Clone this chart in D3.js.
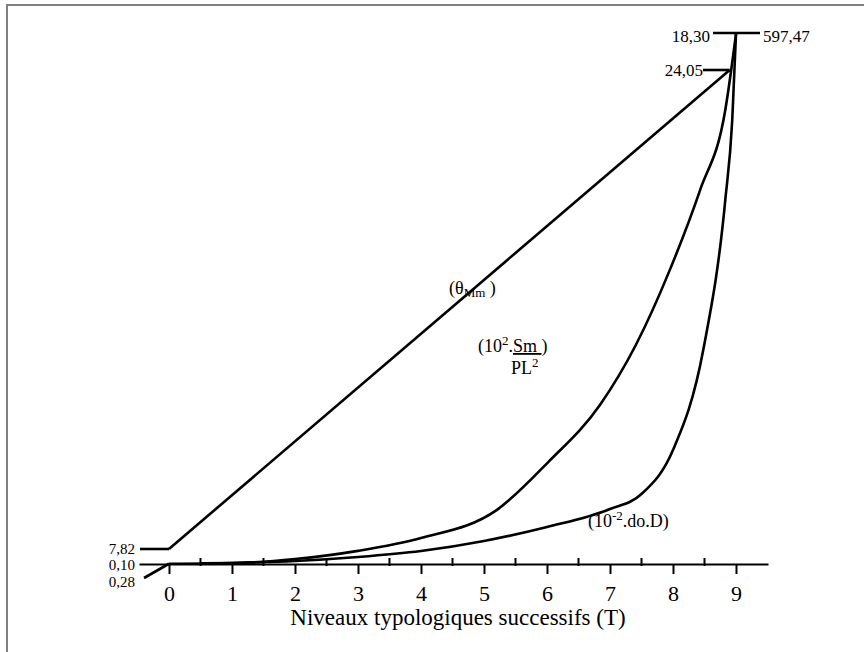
<!DOCTYPE html>
<html><head><meta charset="utf-8">
<script src="https://cdn.jsdelivr.net/npm/d3@7"></script>
<style>
body{margin:0;background:#fff;}
svg{display:block;font-family:"Liberation Serif","Times New Roman",serif;}
svg text{font-family:"Liberation Serif","Times New Roman",serif;}
</style></head><body>
<svg id="c" width="864" height="652"></svg>
<script>
// ---- data ----
const xTicks = [0,1,2,3,4,5,6,7,8,9];
const xMinor = [0.5,1.5,2.5,3.5,4.5,5.5,6.5,7.5,8.5];
const xTitle = "Niveaux typologiques successifs (T)";

// θMm series
const thetaT = [0, 8.9];
const thetaV = [7.82, 24.05];
// 10².Sm/PL² series
const smT = [0.5, 1, 2, 3, 4, 5.2, 6.02, 6.84, 7.41, 7.95, 8.43, 8.83, 9];
const smV = [0.12, 0.13, 0.27, 0.55, 0.99, 1.95, 3.60, 5.56, 7.62, 10.20, 12.94, 15.69, 18.30];
// 10⁻².do.D series
const dodT = [0, 1, 2, 3, 4, 5, 6, 7, 7.5, 8, 8.48, 8.83, 8.94, 9];
const dodV = [0.28, 1.13, 3.38, 7.89, 14.65, 25.93, 41.71, 62.0, 78.9, 128.5, 241.2, 410.3, 500.0, 597.47];

const thetaLabels = ["7,82", "24,05"];
const smLabels = ["0,10", "18,30"];
const dodLabels = ["0,28", "597,47"];

// ---- layout ----
const svg = d3.select("#c");
const x = d3.scaleLinear().domain([-0.476, 9.508]).range([139, 768]);
const yAxisPix = 564, yTopPix = 34;
const yTheta = d3.scaleLinear().domain([thetaV[0], thetaV[1]]).range([549, 70]);
const ySm = d3.scaleLinear().domain([0.10, 18.30]).range([yAxisPix, yTopPix]);
const yDod = d3.scaleLinear().domain([0, 597.47]).range([yAxisPix, yTopPix]);

// frame (top & left)
svg.append("path").attr("d","M7,652 L7,5 L864,5").attr("fill","none").attr("stroke","#808080").attr("stroke-width",2);

// axis
const ax = svg.append("g").attr("transform",`translate(0,${yAxisPix})`)
  .call(d3.axisBottom(x).tickValues(xTicks).tickSizeInner(10).tickSizeOuter(0).tickPadding(11).tickFormat(d3.format("d")));
ax.attr("font-family",null);
ax.select(".domain").attr("stroke","#000").attr("stroke-width",2);
ax.selectAll(".tick line").attr("stroke","#000").attr("stroke-width",2);
ax.selectAll(".tick text").attr("font-size",22).attr("fill","#000");
svg.append("g").selectAll("line").data(xMinor).join("line")
  .attr("x1",d=>x(d)).attr("x2",d=>x(d)).attr("y1",yAxisPix-6).attr("y2",yAxisPix+2)
  .attr("stroke","#000").attr("stroke-width",2);
svg.append("text").attr("x",458).attr("y",625).attr("text-anchor","middle").attr("font-size",23).text(xTitle);

const curve = d3.line().curve(d3.curveMonotoneX);
const stroke = (p)=>p.attr("fill","none").attr("stroke","#000").attr("stroke-width",2.6);

// series lines
svg.append("path").attr("d", d3.line()(thetaT.map((t,i)=>[x(t), yTheta(thetaV[i])]))).call(stroke);
svg.append("path").attr("d", curve(smT.map((t,i)=>[x(t), ySm(smV[i])]))).call(stroke);
svg.append("path").attr("d", curve(dodT.map((t,i)=>[x(t), yDod(dodV[i])]))).call(stroke);

// leaders & end labels
const lab = (tx,ty,s,anchor,fs)=>svg.append("text").attr("x",tx).attr("y",ty).attr("text-anchor",anchor||"end").attr("font-size",fs||17).text(s);
// θ start
svg.append("line").attr("x1",140).attr("x2",x(thetaT[0])).attr("y1",yTheta(thetaV[0])).attr("y2",yTheta(thetaV[0])).call(stroke);
lab(135, 554, thetaLabels[0], "end", 15);
// θ end
svg.append("line").attr("x1",703).attr("x2",x(thetaT[1])).attr("y1",yTheta(thetaV[1])).attr("y2",yTheta(thetaV[1])).call(stroke);
lab(703, yTheta(thetaV[1])+6, thetaLabels[1]);
// Sm start (on axis)
lab(135, 570, smLabels[0], "end", 15);
// dod start leader
svg.append("line").attr("x1",144).attr("y1",578).attr("x2",x(dodT[0])).attr("y2",yDod(dodV[0])).call(stroke);
lab(135, 587, dodLabels[0], "end", 15);
// top bar
svg.append("line").attr("x1",713).attr("x2",760).attr("y1",ySm(18.30)-1).attr("y2",ySm(18.30)-1).call(stroke);
lab(710, ySm(18.30)+8, smLabels[1]);
lab(763, ySm(18.30)+8, dodLabels[1], "start");

// series annotations
const t1 = svg.append("text").attr("x",449).attr("y",294).attr("font-size",18);
t1.append("tspan").text("(θ");
t1.append("tspan").attr("font-size",13).attr("dy",3).text("Mm");
t1.append("tspan").attr("dy",-3).text(" )");

const t2 = svg.append("text").attr("x",478).attr("y",352).attr("font-size",18);
t2.append("tspan").text("(10");
t2.append("tspan").attr("font-size",13).attr("dy",-7).text("2");
t2.append("tspan").attr("dy",7).text(".");
t2.append("tspan").attr("text-decoration","underline").text("Sm ");
t2.append("tspan").text(")");
const t3 = svg.append("text").attr("x",511).attr("y",374).attr("font-size",18);
t3.append("tspan").text("PL");
t3.append("tspan").attr("font-size",13).attr("dy",-7).text("2");

const t4 = svg.append("text").attr("x",588).attr("y",527).attr("font-size",18);
t4.append("tspan").text("(10");
t4.append("tspan").attr("font-size",13).attr("dy",-7).text("-2");
t4.append("tspan").attr("dy",7).text(".do.D)");
</script>
</body></html>
